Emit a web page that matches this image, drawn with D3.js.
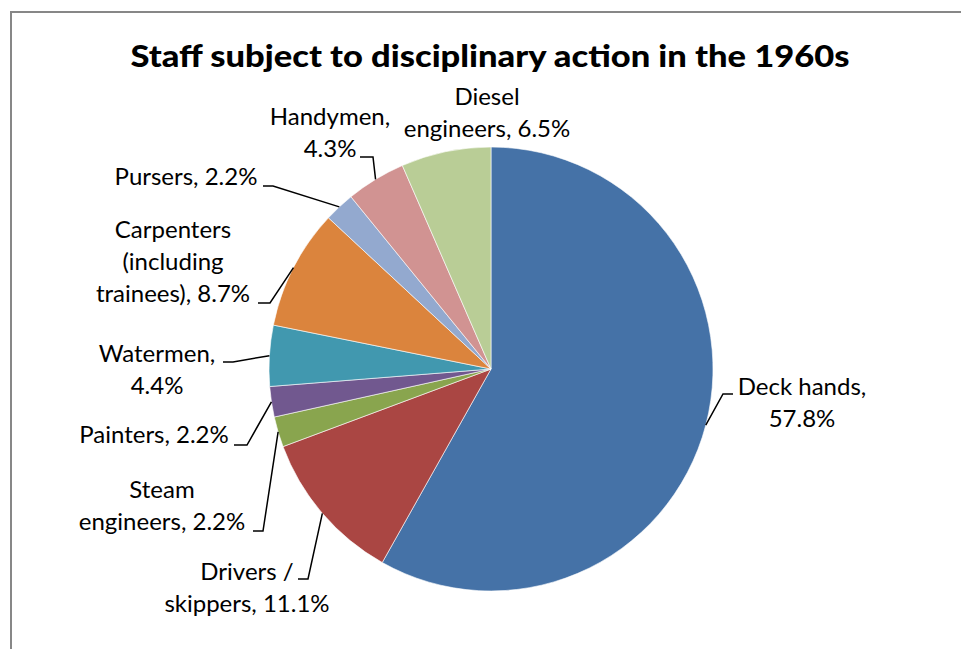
<!DOCTYPE html>
<html>
<head>
<meta charset="utf-8">
<script src="https://cdn.jsdelivr.net/npm/d3@7"></script>
<style>
  html, body { margin: 0; padding: 0; background: #fff; }
  svg { display: block; }
</style>
</head>
<body>
<svg id="chart" width="961" height="649"></svg>
<script>
// ---- data ----
const categories = [
  "Deck hands",
  "Drivers / skippers",
  "Steam engineers",
  "Painters",
  "Watermen",
  "Carpenters (including trainees)",
  "Pursers",
  "Handymen",
  "Diesel engineers"
];
const percentValues = [57.8, 11.1, 2.2, 2.2, 4.4, 8.7, 2.2, 4.3, 6.5];
const labelLines = [
  ["Deck hands,", "57.8%"],
  ["Drivers /", "skippers, 11.1%"],
  ["Steam", "engineers, 2.2%"],
  ["Painters, 2.2%"],
  ["Watermen,", "4.4%"],
  ["Carpenters", "(including", "trainees), 8.7%"],
  ["Pursers, 2.2%"],
  ["Handymen,", "4.3%"],
  ["Diesel", "engineers, 6.5%"]
];
const titleText = "Staff subject to disciplinary action in the 1960s";
const colors = ["#4572A7", "#AA4643", "#89A54E", "#71588F", "#4198AF",
                "#DB843D", "#93A9CF", "#D19392", "#B9CD96"];

// ---- layout (label placement, leader elbows) ----
const cx = 491, cy = 369, radius = 222;
const labelLayout = [
  { x: 802, y: 395, elbow: [723, 394], end: 733 },
  { x: 247, y: 580, elbow: [308, 579], end: 298 },
  { x: 162, y: 498, elbow: [263, 531], end: 253 },
  { x: 154, y: 443, elbow: [247, 445], end: 234 },
  { x: 157, y: 362, elbow: [233, 362], end: 223 },
  { x: 173, y: 238, elbow: [270, 303], end: 258 },
  { x: 186, y: 185, elbow: [273, 186], end: 263 },
  { x: 330, y: 125, elbow: [373, 157], end: 360 },
  { x: 487, y: 105, elbow: null, end: null }
];
const lineHeight = 32;

const svg = d3.select("#chart");

// frame (cropped on right/bottom)
svg.append("rect")
  .attr("x", 11).attr("y", 12)
  .attr("width", 1000).attr("height", 700)
  .attr("fill", "none")
  .attr("stroke", "#878787")
  .attr("stroke-width", 2);

// title
svg.append("text")
  .attr("x", 490).attr("y", 67)
  .attr("text-anchor", "middle")
  .attr("font-family", "Lato, 'Open Sans', sans-serif")
  .attr("font-weight", 900)
  .attr("font-size", 31)
  .attr("fill", "#000")
  .attr("textLength", 719)
  .attr("lengthAdjust", "spacingAndGlyphs")
  .text(titleText);

const data = categories.map((c, i) => ({ name: c, value: percentValues[i], i }));

const pie = d3.pie().value(d => d.value).sort(null);
const arcs = pie(data);
const arc = d3.arc().innerRadius(0).outerRadius(radius);

const g = svg.append("g").attr("transform", `translate(${cx},${cy})`);
g.selectAll("path.slice")
  .data(arcs)
  .join("path")
  .attr("class", "slice")
  .attr("d", arc)
  .attr("fill", d => colors[d.data.i])
  .attr("stroke", "#ffffff")
  .attr("stroke-width", 0.6);

// leader lines
arcs.forEach(a => {
  const L = labelLayout[a.data.i];
  if (!L.elbow) return;
  const mid = (a.startAngle + a.endAngle) / 2;
  const px = cx + radius * Math.sin(mid);
  const py = cy - radius * Math.cos(mid);
  const pts = [[px, py], L.elbow, [L.end, L.elbow[1]]];
  svg.append("path")
    .attr("d", d3.line()(pts))
    .attr("fill", "none")
    .attr("stroke", "#000")
    .attr("stroke-width", 1.5);
});

// labels
arcs.forEach(a => {
  const L = labelLayout[a.data.i];
  const t = svg.append("text")
    .attr("text-anchor", "middle")
    .attr("font-family", "Lato, 'Open Sans', sans-serif")
    .attr("font-size", 24)
    .attr("fill", "#000");
  labelLines[a.data.i].forEach((line, k) => {
    t.append("tspan")
      .attr("x", L.x)
      .attr("y", L.y + k * lineHeight)
      .text(line);
  });
});
</script>
</body>
</html>
